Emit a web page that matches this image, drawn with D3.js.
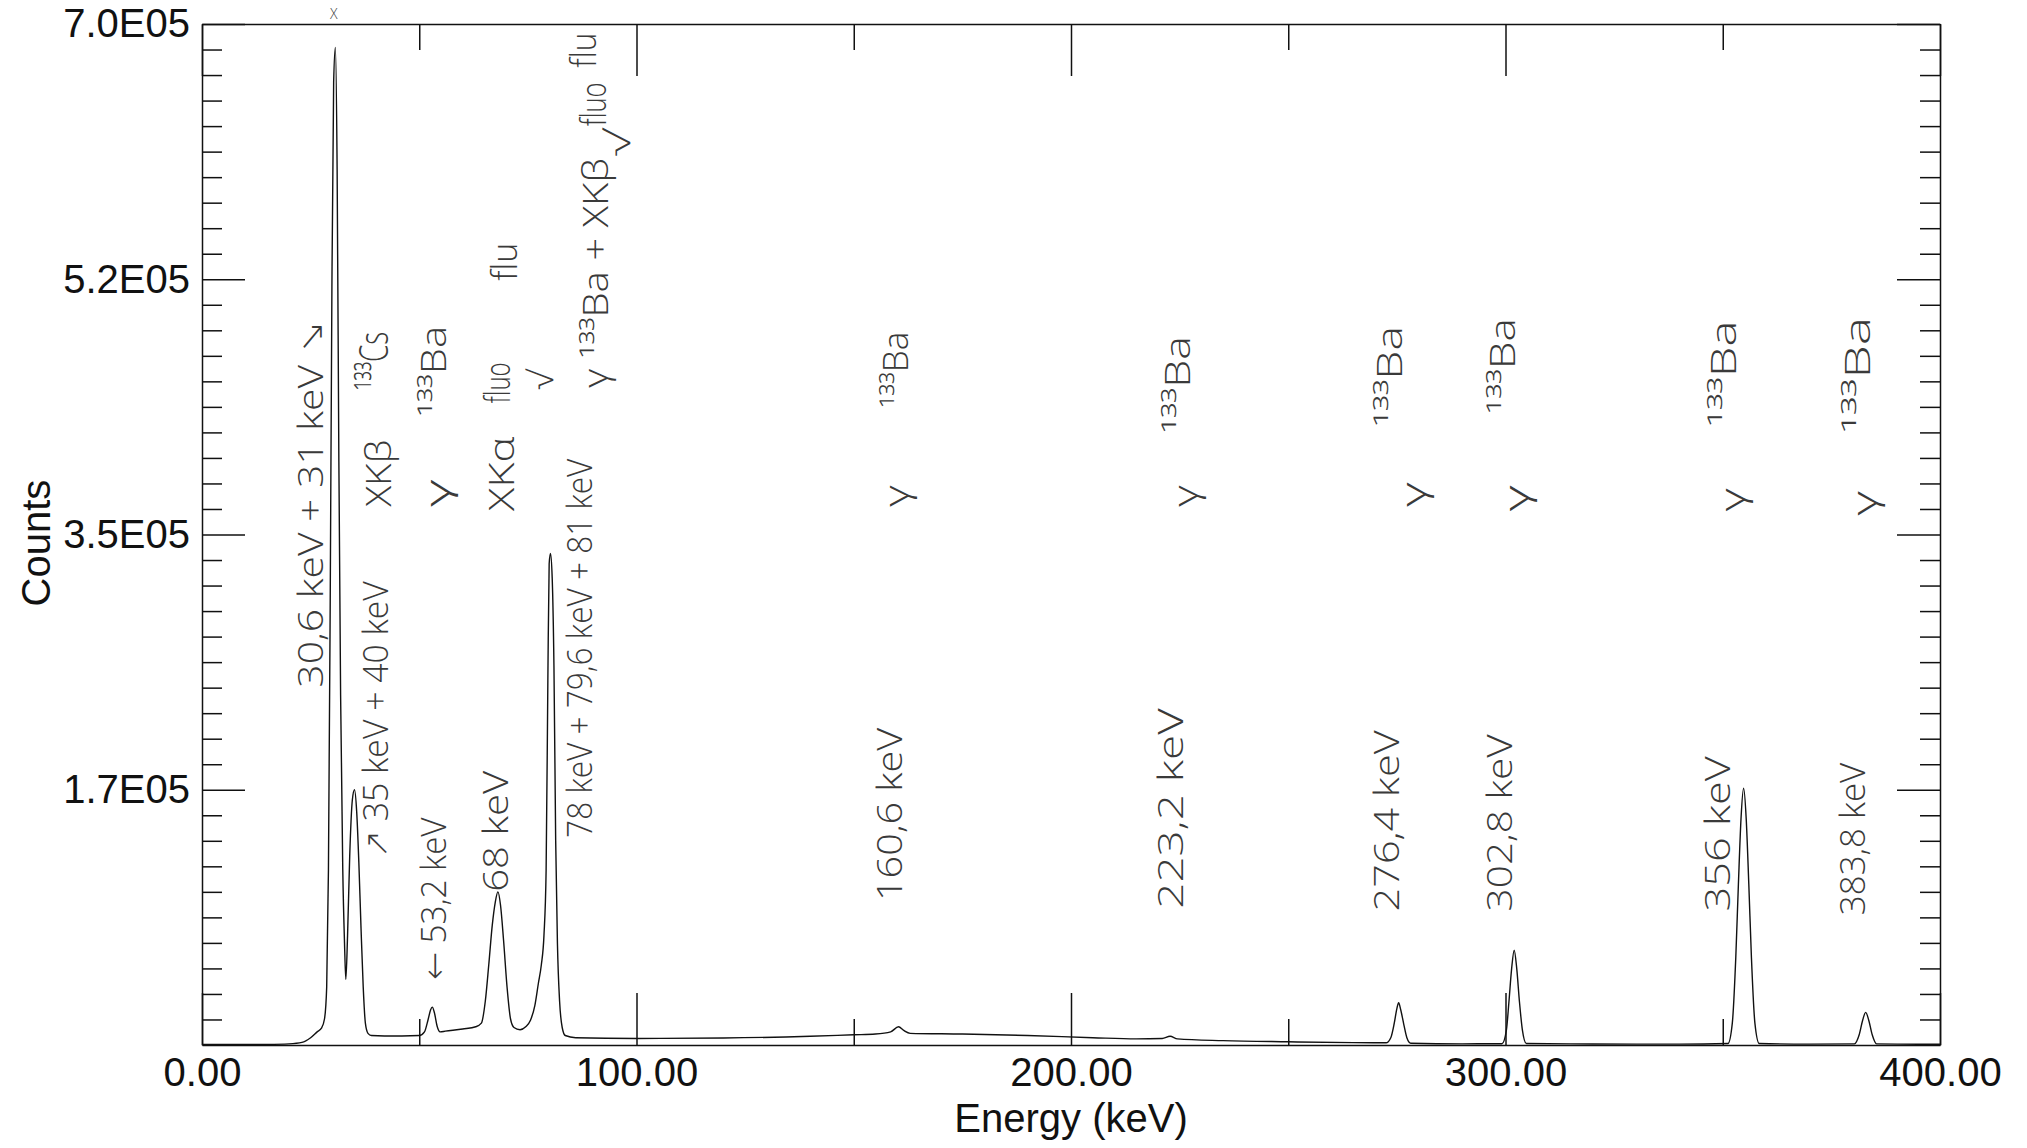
<!DOCTYPE html>
<html lang="fr">
  <head>
    <meta charset="utf-8">
    <title>Spectre gamma 133Ba</title>
    <script src="https://cdn.jsdelivr.net/npm/d3@7"></script>
    <style>
      body { margin: 0; background: #fff; }
      .axis text { font-family: "Liberation Sans", Arial, sans-serif; font-size: 40px; fill: #111; }
      .axis path, .axis line { stroke: #111; stroke-width: 1.5; }
      .title { font-family: "Liberation Sans", Arial, sans-serif; font-size: 40px; fill: #111; }
      .note { font-family: "Open Sans", "DejaVu Sans", sans-serif; font-weight: 300; fill: #3a3a3a; }
    </style>
  </head>
  <body>
    <script>

      //Size of the page and of the plot box
      var w = 2027;
      var h = 1148;
      var margin = {top: 24, right: 87, bottom: 103, left: 202};

      //Spectrum (energy in keV, counts)
      var energy = [0, 10, 15, 20, 23, 25, 26.5, 27.5, 28.2, 28.7, 29.1, 29.5, 29.9, 30.3, 30.7, 31.1, 31.5, 31.9, 32.4, 32.8,
        33.1, 33.5, 34.0, 34.6, 35.1, 35.6, 36.1, 36.6, 37.1, 37.6, 38.2, 39, 42, 46, 50, 51.2, 52.0, 52.6, 53.0, 53.5,
        54.1, 54.8, 56, 60, 63, 64.3, 65.2, 66.0, 66.8, 67.5, 68.1, 68.7, 69.4, 70.2, 71.0, 71.8, 73.2, 74.5, 75.6, 76.6,
        77.4, 78.1, 78.7, 79.2, 79.6, 79.9, 80.2, 80.6, 81.0, 81.4, 81.8, 82.3, 82.9, 83.6, 86, 100, 120, 140, 150, 155,
        158.5, 160.3, 161.5, 163, 175, 190, 205, 215, 221, 222.8, 224.5, 235, 250, 265, 272.5, 273.6, 274.4, 275.0, 275.4, 275.9,
        276.6, 277.3, 278.2, 290, 299.2, 300.2, 300.8, 301.4, 302.0, 302.6, 303.2, 303.9, 304.8, 320, 340, 351.2, 352.2, 353.0, 353.6, 354.2,
        354.8, 355.4, 356.0, 356.6, 357.4, 358.4, 370, 380.3, 381.4, 382.2, 382.9, 383.6, 384.4, 385.4, 395, 400];
      var counts = [300, 300, 400, 800, 1800, 5000, 9000, 11500, 18000, 40000, 120000, 300000, 520000, 660000, 684000, 600000, 400000, 240000, 120000, 70000,
        45000, 75000, 130000, 168000, 175000, 160000, 125000, 80000, 40000, 15000, 8000, 6500, 6200, 6200, 6500, 9000, 17000, 24000, 26000, 22000,
        13000, 9000, 9500, 11000, 12500, 15000, 30000, 55000, 82000, 98000, 105000, 96000, 72000, 40000, 18000, 12000, 10500, 12500, 17000, 27000,
        42000, 55000, 75000, 120000, 250000, 330000, 337000, 320000, 260000, 140000, 70000, 30000, 12000, 6500, 5000, 4500, 4800, 6000, 7000, 7500,
        9000, 12500, 10000, 8000, 7500, 6500, 5000, 4200, 4500, 6000, 4200, 3000, 2200, 1600, 1500, 5000, 15000, 25000, 29000, 24000,
        14000, 5000, 1200, 800, 900, 10000, 30000, 52000, 65000, 52000, 30000, 10000, 1000, 700, 600, 1000, 15000, 60000, 110000, 155000,
        176000, 155000, 110000, 60000, 15000, 1000, 600, 800, 7000, 17000, 22400, 17000, 7000, 800, 500, 500];

      //Tick values and labels
      var xTicks = [0, 100, 200, 300, 400];
      var xTickLabels = ["0.00", "100.00", "200.00", "300.00", "400.00"];
      var xMinorTicks = [50, 150, 250, 350];
      var yTicks = [175000, 350000, 525000, 700000];
      var yTickLabels = ["1.7E05", "3.5E05", "5.2E05", "7.0E05"];

      //Handwritten notes: text, energy of the column, counts where the text starts and ends
      var noteText = ["30,6 keV + 31 keV \u2198", "\u2197 35 keV + 40 keV", "XK\u03b2", "\u00b9\u00b3\u00b3Cs",
        "\u2190 53,2 keV", "\u03b3", "\u00b9\u00b3\u00b3Ba",
        "68 keV", "XK\u03b1", "fluo", "\u221a", "flu",
        "78 keV + 79,6 keV + 81 keV", "\u03b3 \u00b9\u00b3\u00b3Ba + XK\u03b2", "\u221a", "fluo", "flu",
        "160,6 keV", "\u03b3", "\u00b9\u00b3\u00b3Ba",
        "223,2 keV", "\u03b3", "\u00b9\u00b3\u00b3Ba",
        "276,4 keV", "\u03b3", "\u00b9\u00b3\u00b3Ba",
        "302,8 keV", "\u03b3", "\u00b9\u00b3\u00b3Ba",
        "356 keV", "\u03b3", "\u00b9\u00b3\u00b3Ba",
        "383,8 keV", "\u03b3", "\u00b9\u00b3\u00b3Ba"];
      var noteEnergy = [24.9, 39.8, 40.6, 39.2,
        53.2, 54.1, 53.2,
        67.5, 68.7, 67.8, 77.9, 69.5,
        86.8, 90.4, 95.4, 90.1, 87.7,
        158.2, 159.7, 159.4,
        222.8, 226.3, 224.3,
        272.4, 278.7, 273.3,
        298.6, 302.5, 299.2,
        348.6, 352.2, 350.1,
        379.8, 382.5, 381];
      var noteFrom = [245000, 128000, 369000, 449000,
        44600, 369000, 431000,
        105000, 366000, 440000, 449000, 524000,
        142000, 450600, 609000, 630000, 670000,
        98700, 369000, 437000,
        93400, 369000, 419600,
        91600, 369000, 424000,
        91600, 366000, 432800,
        91600, 366000, 424000,
        89000, 363000, 419600];
      var noteTo = [497000, 318000, 415000, 489000,
        156000, 388000, 493000,
        188000, 417000, 468000, 463000, 550000,
        402000, 608000, 628000, 660000, 694000,
        217500, 384000, 489000,
        230800, 384000, 486000,
        215700, 386000, 493000,
        213000, 384000, 498400,
        198000, 382000, 496700,
        193500, 380000, 499300];

      var spectrum = energy.map(function(e, i) { return [e, counts[i]]; });

      var svg = d3.select("body")
            .append("svg")
            .attr("width", w)
            .attr("height", h);

      //Scales
      var xScale = d3.scaleLinear()
            .domain([0, 400])
            .range([margin.left, w - margin.right]);

      var yScale = d3.scaleLinear()
            .domain([0, 700000])
            .range([h - margin.bottom, margin.top]);

      var yMinorTicks = d3.range(17500, 700000, 17500).filter(function(v) { return v % 175000 !== 0; });

      //Axes: every tick points into the plot
      var xAxis = d3.axisBottom(xScale)
            .tickValues(xTicks)
            .tickFormat(function(d, i) { return xTickLabels[i]; })
            .tickSizeInner(-52)
            .tickSizeOuter(0)
            .tickPadding(13);

      var yAxis = d3.axisLeft(yScale)
            .tickValues(yTicks)
            .tickFormat(function(d, i) { return yTickLabels[i]; })
            .tickSizeInner(-43)
            .tickSizeOuter(0)
            .tickPadding(12);

      svg.append("g")
        .attr("class", "axis")
        .attr("transform", "translate(0," + (h - margin.bottom) + ")")
        .call(xAxis);

      svg.append("g")
        .attr("class", "axis")
        .attr("transform", "translate(0," + margin.top + ")")
        .call(d3.axisTop(xScale).tickValues(xTicks).tickFormat("").tickSizeInner(-52).tickSizeOuter(0));

      svg.append("g")
        .attr("class", "axis")
        .attr("transform", "translate(" + margin.left + ",0)")
        .call(yAxis);

      svg.append("g")
        .attr("class", "axis")
        .attr("transform", "translate(" + (w - margin.right) + ",0)")
        .call(d3.axisRight(yScale).tickValues(yTicks).tickFormat("").tickSizeInner(-43).tickSizeOuter(0));

      //Minor ticks
      var minor = [
        [d3.axisBottom(xScale).tickValues(xMinorTicks).tickSizeInner(-26), "translate(0," + (h - margin.bottom) + ")"],
        [d3.axisTop(xScale).tickValues(xMinorTicks).tickSizeInner(-26), "translate(0," + margin.top + ")"],
        [d3.axisLeft(yScale).tickValues(yMinorTicks).tickSizeInner(-20), "translate(" + margin.left + ",0)"],
        [d3.axisRight(yScale).tickValues(yMinorTicks).tickSizeInner(-20), "translate(" + (w - margin.right) + ",0)"]
      ];
      minor.forEach(function(m) {
        var g = svg.append("g")
          .attr("class", "axis")
          .attr("transform", m[1])
          .call(m[0].tickFormat("").tickSizeOuter(0));
        g.select(".domain").remove();
      });

      //Spectrum line
      var line = d3.line()
            .x(function(d) { return xScale(d[0]); })
            .y(function(d) { return yScale(d[1]); })
            .curve(d3.curveMonotoneX);

      svg.append("path")
        .datum(spectrum)
        .attr("fill", "none")
        .attr("stroke", "#111")
        .attr("stroke-width", 1.4)
        .attr("d", line);

      //Axis titles
      svg.append("text")
        .attr("class", "title")
        .attr("x", (xScale(0) + xScale(400)) / 2)
        .attr("y", 1132)
        .attr("text-anchor", "middle")
        .text("Energy (keV)");

      svg.append("text")
        .attr("class", "title")
        .attr("text-anchor", "middle")
        .attr("transform", "translate(50,543) rotate(-90)")
        .text("Counts");

      //Handwritten notes, written bottom to top
      noteText.forEach(function(t, i) {
        var px = xScale(noteEnergy[i]);
        var py = yScale(noteFrom[i]);
        var len = py - yScale(noteTo[i]);
        svg.append("text")
          .attr("class", "note")
          .attr("transform", "translate(" + px + "," + py + ") rotate(-90)")
          .attr("dominant-baseline", "central")
          .attr("font-size", t.indexOf("\u00b3Ba") === 3 || t.indexOf("\u00b3Cs") === 2 ? 40 : 34)
          .attr("textLength", len)
          .attr("lengthAdjust", "spacingAndGlyphs")
          .text(t);
      });

      //Small letter at the top edge, above the main peak
      svg.append("text")
        .attr("class", "note")
        .attr("x", xScale(30.3))
        .attr("y", 19)
        .attr("text-anchor", "middle")
        .attr("font-size", 14)
        .text("X");

    </script>
  </body>
</html>
